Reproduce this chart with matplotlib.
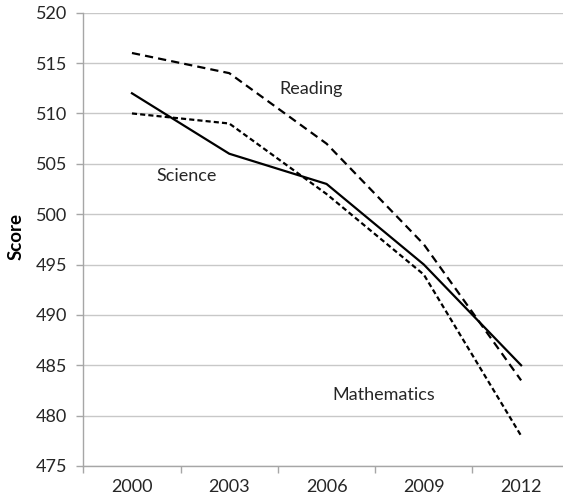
import matplotlib.pyplot as plt

years = ["2000", "2003", "2006", "2009", "2012"]
reading = [516, 514, 507, 497, 483.5]
mathematics = [510, 509, 502, 494, 478]
science = [512, 506, 503, 495, 485]
y_ticks = [475, 480, 485, 490, 495, 500, 505, 510, 515, 520]

plt.rcParams['font.family'] = ['Lato', 'DejaVu Sans']

fig = plt.figure(figsize=(5.63, 5.0), dpi=100)
# plot area runs past the right edge, like the cropped original
ax = fig.add_axes([0.148, 0.068, 0.864, 0.9066])

x = list(range(len(years)))
ax.plot(x, reading, color='black', lw=1.6, dashes=(3.7, 2.3), clip_on=False)
ax.plot(x, mathematics, color='black', lw=1.6, dashes=(2.3, 1.4), clip_on=False)
ax.plot(x, science, color='black', lw=1.6, clip_on=False)

txt = '#262626'
fs = 13
ax.text(1.84, 512.4, "Reading", fontsize=fs, color=txt, ha='center', va='center')
ax.text(0.56, 503.8, "Science", fontsize=fs, color=txt, ha='center', va='center')
ax.text(2.59, 482.0, "Mathematics", fontsize=fs, color=txt, ha='center', va='center')

ax.set_xlim(-0.5, len(years) - 0.5)
ax.set_ylim(475, 520)
ax.set_yticks(y_ticks)
ax.set_xticks(x)
ax.set_xticklabels(years)
ax.set_xticks([i - 0.5 for i in range(len(years) + 1)], minor=True)
ax.tick_params(axis='x', which='major', length=0, pad=9, labelsize=fs, labelcolor=txt)
ax.tick_params(axis='x', which='minor', length=5, color='#a6a6a6', width=1)
ax.tick_params(axis='y', length=5, color='#a6a6a6', width=1, pad=6.5, labelsize=fs, labelcolor=txt)

ax.yaxis.grid(True, color='#c8c8c8', lw=1)
ax.set_axisbelow(True)
for side in ['top', 'right']:
    ax.spines[side].set_visible(False)
for side in ['left', 'bottom']:
    ax.spines[side].set_color('#a6a6a6')
    ax.spines[side].set_linewidth(1)

fig.text(16 / 563, 1 - 237 / 500, "Score", fontsize=13.5, fontweight='bold',
         color='black', rotation=90, ha='center', va='center')

fig.savefig("out.png", dpi=100)
